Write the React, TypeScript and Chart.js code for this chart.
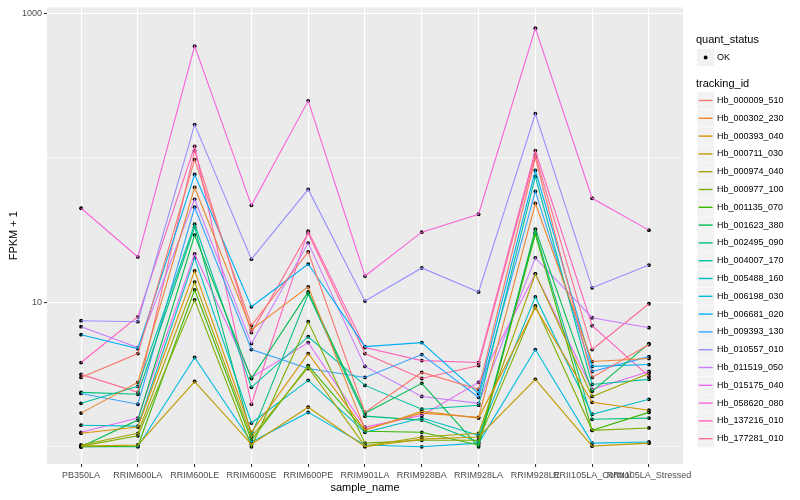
import React, { useEffect, useRef } from "react";
import { Chart, registerables } from "chart.js";

Chart.register(...registerables);

const samples = [
  "PB350LA", "RRIM600LA", "RRIM600LE", "RRIM600SE", "RRIM600PE", "RRIM901LA",
  "RRIM928BA", "RRIM928LA", "RRIM928LE", "RRII105LA_Control", "RRII105LA_Stressed",
];

const trackingIds = [
  "Hb_000009_510", "Hb_000302_230", "Hb_000393_040", "Hb_000711_030", "Hb_000974_040",
  "Hb_000977_100", "Hb_001135_070", "Hb_001623_380", "Hb_002495_090", "Hb_004007_170",
  "Hb_005488_160", "Hb_006198_030", "Hb_006681_020", "Hb_009393_130", "Hb_010557_010",
  "Hb_011519_050", "Hb_015175_040", "Hb_058620_080", "Hb_137216_010", "Hb_177281_010",
];

const seriesColors = [
  "#F8766D", "#EA8331", "#D89000", "#C09B00", "#A3A500", "#7CAE00", "#39B600", "#00BB4E",
  "#00BF7D", "#00C1A3", "#00BFC4", "#00BAE0", "#00B0F6", "#35A2FF", "#9590FF", "#C77CFF",
  "#E76BF3", "#FA62DB", "#FF62BC", "#FF6C91",
];

// FPKM + 1 per sample (order of `samples`)
const hb000009510 = [3.02, 4.42, 97.3, 6.89, 22.3, 1.73, 3.27, 2.5, 100, 3.02, 5.1];
const hb000302230 = [1.71, 2.79, 62.4, 6.47, 12.8, 1.32, 1.71, 1.6, 48.4, 3.89, 4.08];
const hb000393040 = [1.24, 1.37, 16.5, 1.26, 4.42, 1.3, 1.76, 1.58, 9.17, 2.03, 1.79];
const hb000711030 = [1.01, 1.03, 2.83, 1.04, 1.88, 1.0, 1.13, 1.17, 2.93, 1.01, 1.06];
const hb000974040 = [1.03, 1.24, 13.8, 1.17, 3.54, 1.01, 1.17, 1.24, 15.7, 2.23, 3.22];
const hb000977100 = [1.01, 1.19, 10.4, 1.0, 7.34, 1.06, 1.11, 1.11, 9.46, 1.3, 1.35];
const hb001135070 = [1.0, 1.01, 12.2, 1.11, 3.65, 1.28, 1.26, 1.03, 29.6, 1.3, 1.73];
const hb001623380 = [1.0, 1.53, 29.2, 2.97, 11.8, 1.71, 2.75, 1.0, 32.1, 2.42, 5.18];
const hb002495090 = [2.38, 2.31, 33.1, 1.2, 11.4, 1.63, 1.53, 1.08, 30.6, 1.55, 1.58];
const hb004007170 = [2.0, 2.62, 34.7, 2.58, 5.78, 2.66, 1.82, 1.94, 74.3, 2.7, 2.93];
const hb005488160 = [1.41, 1.39, 20.3, 1.46, 2.88, 1.26, 1.58, 1.2, 10.9, 1.68, 2.13];
const hb006198030 = [1.0, 1.0, 4.15, 1.08, 1.73, 1.03, 1.0, 1.06, 4.71, 1.06, 1.08];
const hb006681020 = [5.97, 4.78, 76.7, 9.31, 18.4, 4.94, 5.26, 2.34, 81.8, 3.6, 3.71];
const hb009393130 = [2.34, 1.97, 45.5, 4.71, 3.48, 3.02, 4.35, 2.2, 58.6, 3.32, 4.21];
const hb010557010 = [7.46, 7.34, 170, 19.9, 60.5, 10.2, 17.3, 11.8, 202, 12.6, 18.1];
const hb011519050 = [6.78, 4.86, 51.6, 5.18, 25.7, 3.6, 2.23, 2.0, 20.3, 7.82, 6.67];
const hb015175040 = [1.26, 1.58, 21.6, 3.02, 5.26, 1.37, 1.65, 2.79, 15.7, 2.5, 3.32];
const hb058620080 = [44.8, 20.6, 593, 46.9, 248, 15.2, 30.6, 40.7, 789, 52.5, 31.6];
const hb137216010 = [3.83, 7.94, 120, 1.97, 31.1, 4.86, 3.95, 3.83, 112, 6.89, 3.07];
const hb177281010 = [3.17, 2.38, 112, 6.17, 30.1, 4.42, 2.97, 3.65, 105, 4.71, 9.77];

const seriesValues = [
  hb000009510, hb000302230, hb000393040, hb000711030, hb000974040,
  hb000977100, hb001135070, hb001623380, hb002495090, hb004007170,
  hb005488160, hb006198030, hb006681020, hb009393130, hb010557010,
  hb011519050, hb015175040, hb058620080, hb137216010, hb177281010,
];

const yTickValues = [1, 10, 100, 1000];
const yMajorTicks = [10, 1000];

const quantStatusTitle = "quant_status";
const quantStatusLabels = ["OK"];
const trackingTitle = "tracking_id";

const FONT = "'Liberation Sans', Arial, Helvetica, sans-serif";

const panelPlugin = {
  id: "panelBg",
  beforeDraw(chart: any) {
    const { ctx, chartArea } = chart;
    ctx.save();
    ctx.fillStyle = "#EBEBEB";
    ctx.fillRect(chartArea.left, chartArea.top, chartArea.right - chartArea.left, chartArea.bottom - chartArea.top);
    ctx.restore();
  },
};

const legendPlugin = {
  id: "ggLegend",
  afterDraw(chart: any) {
    const { ctx } = chart;
    const x0 = 696;
    const keyX = 697;
    const keyW = 17.3;
    const textX = 717;
    ctx.save();
    ctx.textBaseline = "middle";
    ctx.textAlign = "left";
    ctx.fillStyle = "#000000";
    ctx.font = `11px ${FONT}`;
    ctx.fillText(quantStatusTitle, x0, 40);
    quantStatusLabels.forEach((lab, i) => {
      const cy = 57.5 + i * 17.8;
      ctx.fillStyle = "#F2F2F2";
      ctx.fillRect(keyX, cy - keyW / 2, keyW, keyW);
      ctx.fillStyle = "#000000";
      ctx.beginPath();
      ctx.arc(keyX + keyW / 2, cy, 1.9, 0, Math.PI * 2);
      ctx.fill();
      ctx.font = `9px ${FONT}`;
      ctx.fillText(lab, textX, cy);
    });
    ctx.font = `11px ${FONT}`;
    ctx.fillStyle = "#000000";
    ctx.fillText(trackingTitle, x0, 84);
    trackingIds.forEach((id, i) => {
      const cy = 100.5 + i * 17.8;
      ctx.fillStyle = "#F2F2F2";
      ctx.fillRect(keyX, cy - keyW / 2, keyW, keyW);
      ctx.strokeStyle = seriesColors[i];
      ctx.lineWidth = 1.4;
      ctx.beginPath();
      ctx.moveTo(keyX + 1.7, cy);
      ctx.lineTo(keyX + keyW - 1.7, cy);
      ctx.stroke();
      ctx.fillStyle = "#000000";
      ctx.font = `9px ${FONT}`;
      ctx.fillText(id, textX, cy);
    });
    ctx.restore();
  },
};

export default function App() {
  const canvasRef = useRef<HTMLCanvasElement | null>(null);

  useEffect(() => {
    document.body.style.margin = "0";
    const canvas = canvasRef.current;
    if (!canvas) return;

    const lineSets = seriesValues.map((vals, s) => ({
      label: trackingIds[s],
      data: vals.map((v, i) => ({ x: i, y: v })),
      borderColor: seriesColors[s],
      backgroundColor: seriesColors[s],
      borderWidth: 1.1,
      pointRadius: 0,
      tension: 0,
      fill: false,
    }));
    const pointSets = seriesValues.map((vals, s) => ({
      label: trackingIds[s] + " points",
      data: vals.map((v, i) => ({ x: i, y: v })),
      showLine: false,
      pointRadius: 1.9,
      pointBackgroundColor: "#000000",
      pointBorderWidth: 0,
      borderColor: "#000000",
    }));

    const chart = new Chart(canvas, {
      type: "line",
      data: { datasets: [...lineSets, ...pointSets] as any },
      plugins: [panelPlugin, legendPlugin],
      options: {
        responsive: false,
        animation: false,
        devicePixelRatio: 1,
        events: [],
        layout: { padding: { left: 0, right: 117, top: 5, bottom: 0 } },
        plugins: { legend: { display: false }, tooltip: { enabled: false } },
        scales: {
          x: {
            type: "linear",
            min: -0.6,
            max: 10.6,
            afterBuildTicks: (scale: any) => {
              scale.ticks = samples.map((_, i) => ({ value: i }));
            },
            afterFit: (scale: any) => {
              scale.height = 36;
            },
            ticks: {
              callback: (v: any) => samples[v as number],
              autoSkip: false,
              maxRotation: 0,
              minRotation: 0,
              color: "#4D4D4D",
              font: { family: FONT, size: 9 },
              padding: 3,
            },
            grid: { color: "#FFFFFF", lineWidth: 1.1, tickColor: "#333333", tickLength: 3 },
            border: { display: false },
            title: {
              display: true,
              text: "sample_name",
              color: "#000000",
              font: { family: FONT, size: 11 },
              padding: { top: 0, bottom: 5 },
            },
          },
          y: {
            type: "logarithmic",
            min: 0.76,
            max: 1100,
            afterBuildTicks: (scale: any) => {
              scale.ticks = yTickValues.map((v) => ({ value: v }));
            },
            afterFit: (scale: any) => {
              scale.width = 47;
            },
            ticks: {
              callback: (v: any) => (yMajorTicks.includes(v as number) ? String(v) : ""),
              color: "#4D4D4D",
              font: { family: FONT, size: 9 },
              padding: 2,
              autoSkip: false,
            },
            grid: {
              color: "#FFFFFF",
              lineWidth: (ctx: any) => (ctx.tick && yMajorTicks.includes(ctx.tick.value) ? 1.1 : 0.55),
              tickColor: (ctx: any) => (ctx.tick && yMajorTicks.includes(ctx.tick.value) ? "#333333" : "rgba(0,0,0,0)"),
              tickLength: 3,
            },
            border: { display: false },
            title: {
              display: true,
              text: "FPKM + 1",
              color: "#000000",
              font: { family: FONT, size: 11 },
              padding: { top: 7, bottom: 0 },
            },
          },
        },
      } as any,
    });
    return () => chart.destroy();
  }, []);

  return (
    <div style={{ width: 800, height: 500 }}>
      <canvas ref={canvasRef} width={800} height={500} />
    </div>
  );
}
